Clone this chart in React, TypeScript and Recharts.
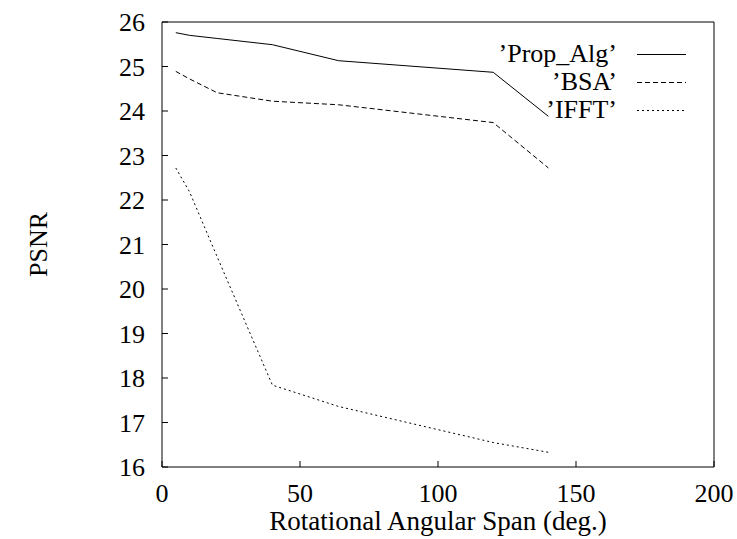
import React from 'react';
import { LineChart, Line, XAxis, YAxis, Legend, Label } from 'recharts';

const spans = [5, 10, 20, 40, 64, 120, 140];
const propAlg = [25.76, 25.7, 25.63, 25.49, 25.13, 24.87, 23.88];
const bsa = [24.89, 24.72, 24.41, 24.22, 24.14, 23.74, 22.72];
const ifft = [22.72, 22.18, 20.72, 17.84, 17.36, 16.55, 16.33];

const xTicks = [0, 50, 100, 150, 200];
const yTicks = [16, 17, 18, 19, 20, 21, 22, 23, 24, 25, 26];

const series = [
  { key: 'prop', name: '\u2019Prop_Alg\u2019', dash: undefined as string | undefined },
  { key: 'bsa', name: '\u2019BSA\u2019', dash: '5 3' },
  { key: 'ifft', name: '\u2019IFFT\u2019', dash: '2 3' },
];

const data = spans.map((s, i) => ({ span: s, prop: propAlg[i], bsa: bsa[i], ifft: ifft[i] }));

const FONT = '"Liberation Serif", "Times New Roman", serif';
const textStyle = { fontFamily: FONT, fontSize: 26, fill: '#000' };

const XTick = (props: any) => {
  const { x, y, payload } = props;
  return (
    <text x={x} y={y} dy={18} textAnchor="middle" style={textStyle}>
      {payload.value}
    </text>
  );
};

const YTick = (props: any) => {
  const { x, y, payload } = props;
  return (
    <text x={x} y={y} dy={9} textAnchor="end" style={textStyle}>
      {payload.value}
    </text>
  );
};

const XTitle = (props: any) => {
  const { viewBox } = props;
  const cx = viewBox.x + viewBox.width / 2;
  return (
    <text x={cx} y={viewBox.y + 63} textAnchor="middle" style={{ ...textStyle, fontSize: 27 }}>
      Rotational Angular Span (deg.)
    </text>
  );
};

const YTitle = (props: any) => {
  const { viewBox } = props;
  const cy = viewBox.y + viewBox.height / 2;
  const cx = viewBox.x - 123;
  return (
    <text
      x={cx}
      y={cy}
      dy={9}
      textAnchor="middle"
      transform={`rotate(-90, ${cx}, ${cy})`}
      style={textStyle}
    >
      PSNR
    </text>
  );
};

const renderLegend = () => (
  <div style={{ fontFamily: FONT, fontSize: 26, color: '#000' }}>
    {series.map((s) => (
      <div key={s.key} style={{ display: 'flex', alignItems: 'center', height: 28 }}>
        <span style={{ width: 142, textAlign: 'right', lineHeight: '28px', whiteSpace: 'nowrap' }}>{s.name}</span>
        <svg width={50} height={28} style={{ marginLeft: 20, display: 'block' }}>
          <line x1={0} y1={14.5} x2={49} y2={14.5} stroke="#000" strokeWidth={1} strokeDasharray={s.dash} />
        </svg>
      </div>
    ))}
  </div>
);

export default function App() {
  return (
    <div style={{ position: 'absolute', left: 0, top: 0, background: '#fff', fontFamily: FONT }}>
      <LineChart
        width={737}
        height={539}
        data={data}
        margin={{ top: 21, right: 22, bottom: 71, left: 161 }}
      >
        <XAxis
          dataKey="span"
          type="number"
          domain={[0, 200]}
          ticks={xTicks}
          height={1}
          tickSize={-6}
          tickMargin={23}
          tick={<XTick />}
          axisLine={{ stroke: '#000' }}
          tickLine={{ stroke: '#000' }}
        >
          <Label content={<XTitle />} />
        </XAxis>
        <XAxis
          xAxisId="top"
          orientation="top"
          dataKey="span"
          type="number"
          domain={[0, 200]}
          ticks={xTicks}
          height={1}
          tickSize={-6}
          tick={false}
          axisLine={{ stroke: '#000' }}
          tickLine={{ stroke: '#000' }}
        />
        <YAxis
          type="number"
          domain={[16, 26]}
          ticks={yTicks}
          width={1}
          tickSize={-6}
          tickMargin={23}
          tick={<YTick />}
          axisLine={{ stroke: '#000' }}
          tickLine={{ stroke: '#000' }}
        >
          <Label content={<YTitle />} />
        </YAxis>
        <YAxis
          yAxisId="right"
          orientation="right"
          type="number"
          domain={[16, 26]}
          ticks={yTicks}
          width={1}
          tickSize={-6}
          tick={false}
          axisLine={{ stroke: '#000' }}
          tickLine={{ stroke: '#000' }}
        />
        <Legend
          layout="vertical"
          align="center"
          verticalAlign="middle"
          content={renderLegend}
          wrapperStyle={{ top: 40, left: 475, width: 230, height: 84 }}
        />
        {series.map((s) => (
          <Line
            key={s.key}
            type="linear"
            dataKey={s.key}
            name={s.name}
            stroke="#000"
            strokeWidth={1}
            strokeDasharray={s.dash}
            dot={false}
            activeDot={false}
            isAnimationActive={false}
          />
        ))}
      </LineChart>
    </div>
  );
}
